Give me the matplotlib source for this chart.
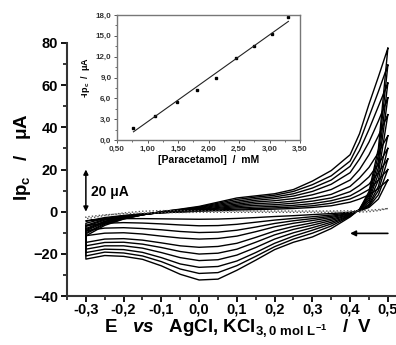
import matplotlib
matplotlib.use('Agg')
import matplotlib.pyplot as plt
import numpy as np
from matplotlib.ticker import MultipleLocator

E = [-0.3, -0.25, -0.2, -0.15, -0.1, -0.05, 0.0, 0.05, 0.1, 0.15, 0.2,
     0.25, 0.3, 0.35, 0.4, 0.425, 0.45, 0.475, 0.5]

# forward (anodic) branches, lowest -> highest paracetamol concentration
up0 = [-4.5, -2.8, -1.8, -1.0, -0.5, -0.2, 0.2, 0.5, 0.8, 1.0, 1.2, 1.5, 2.0, 2.8, 4.5, 6.0, 8.0, 11.0, 15.0]
up1 = [-5.5, -3.2, -2.0, -1.1, -0.5, -0.1, 0.4, 0.8, 1.2, 1.5, 1.8, 2.2, 2.8, 4.0, 6.0, 8.0, 10.5, 15.0, 20.0]
up2 = [-6.5, -3.6, -2.2, -1.2, -0.5, 0.0, 0.6, 1.2, 1.8, 2.2, 2.5, 3.0, 3.8, 5.2, 7.5, 10.0, 13.0, 18.5, 25.0]
up3 = [-7.0, -4.0, -2.4, -1.3, -0.5, 0.2, 0.8, 1.6, 2.4, 3.0, 3.3, 4.0, 5.0, 6.5, 9.5, 12.5, 16.5, 22.5, 30.0]
up4 = [-8.0, -4.5, -2.6, -1.4, -0.4, 0.3, 1.0, 2.0, 3.0, 3.8, 4.2, 5.0, 6.3, 8.2, 12.0, 16.0, 21.0, 28.0, 36.0]
up5 = [-8.5, -4.8, -2.8, -1.4, -0.3, 0.5, 1.3, 2.5, 3.6, 4.6, 5.2, 6.2, 8.0, 10.5, 15.0, 20.0, 27.0, 36.0, 46.0]
up6 = [-9.0, -5.2, -3.0, -1.5, -0.2, 0.7, 1.6, 3.0, 4.3, 5.4, 6.2, 7.4, 9.6, 13.0, 18.5, 25.0, 33.0, 43.0, 54.0]
up7 = [-10.0, -5.6, -3.2, -1.5, -0.1, 0.9, 1.9, 3.5, 5.0, 6.2, 7.0, 8.5, 11.2, 15.0, 21.5, 29.0, 39.0, 50.0, 61.0]
up8 = [-10.5, -6.0, -3.4, -1.5, 0.0, 1.0, 2.2, 4.0, 5.8, 6.9, 7.8, 9.6, 12.8, 17.0, 24.0, 33.0, 45.0, 57.0, 69.5]
up9 = [-11.5, -6.5, -3.5, -1.5, 0.0, 1.2, 2.5, 4.5, 6.5, 7.5, 8.5, 10.5, 14.5, 19.5, 27.0, 37.0, 51.0, 64.0, 77.5]

# reverse (cathodic) branches, same order, values on the same E grid
lo0 = [-4.3, -3.6, -3.3, -3.3, -3.4, -3.5, -3.6, -3.5, -3.2, -2.8, -2.3, -1.9, -1.4, -0.9, -0.3, 0.3, 2.0, 6.0, 15.0]
lo1 = [-6.7, -5.5, -5.2, -5.4, -5.8, -6.3, -6.7, -6.6, -6.0, -5.0, -4.0, -3.2, -2.4, -1.6, -0.5, 0.4, 2.5, 8.0, 20.0]
lo2 = [-9.0, -7.8, -7.6, -8.0, -8.6, -9.4, -9.9, -9.7, -8.8, -7.3, -5.6, -4.3, -3.3, -2.2, -0.8, 0.5, 3.0, 10.0, 25.0]
lo3 = [-11.4, -10.2, -10.0, -10.6, -11.6, -12.5, -13.0, -12.7, -11.6, -9.5, -7.2, -5.5, -4.2, -2.8, -1.0, 0.6, 3.5, 12.0, 30.0]
lo4 = [-14.6, -13.0, -12.8, -13.5, -14.8, -16.2, -16.9, -16.5, -15.0, -12.2, -9.2, -7.0, -5.3, -3.5, -1.3, 0.7, 4.5, 15.0, 36.0]
lo5 = [-16.2, -14.6, -14.5, -15.4, -17.0, -18.9, -20.1, -19.7, -17.8, -14.5, -11.0, -8.4, -6.4, -4.2, -1.5, 0.8, 5.5, 18.0, 46.0]
lo6 = [-17.8, -16.2, -16.2, -17.3, -19.4, -21.8, -23.2, -22.8, -20.6, -17.0, -13.0, -10.0, -7.6, -5.0, -1.8, 0.9, 6.5, 21.0, 54.0]
lo7 = [-19.4, -17.8, -18.0, -19.3, -21.8, -24.8, -26.4, -26.0, -23.4, -19.4, -15.0, -11.6, -8.8, -5.8, -2.0, 1.0, 7.5, 24.0, 61.0]
lo8 = [-21.0, -19.2, -19.6, -21.0, -23.7, -27.2, -29.3, -28.9, -25.6, -21.2, -16.6, -13.0, -10.2, -6.8, -2.2, 1.1, 8.5, 27.0, 69.5]
lo9 = [-22.5, -20.8, -21.2, -22.6, -25.7, -29.7, -32.4, -32.0, -27.8, -23.0, -18.0, -14.5, -12.0, -8.0, -2.5, 1.2, 9.5, 30.0, 77.5]

# blank (no paracetamol), dotted
blank_up = [-3.4, -1.8, -0.6, 0.2, 0.5, 0.5, 0.4, 0.3, 0.3, 0.3, 0.3, 0.3, 0.3, 0.3, 0.4, 0.5, 0.7, 1.0, 1.5]
blank_lo = [-2.5, -1.5, -1.0, -0.7, -0.5, -0.4, -0.3, -0.3, -0.3, -0.3, -0.3, -0.3, -0.3, -0.3, -0.3, -0.2, 0.0, 0.5, 1.5]

# inset: calibration curve
conc = [0.77, 1.13, 1.48, 1.81, 2.13, 2.45, 2.74, 3.04, 3.31]
ipc = [1.8, 3.5, 5.5, 7.2, 9.0, 11.8, 13.5, 15.3, 17.7]

xticks = [-0.3, -0.2, -0.1, 0.0, 0.1, 0.2, 0.3, 0.4, 0.5]
xticklabels = ['-0,3', '-0,2', '-0,1', '0,0', '0,1', '0,2', '0,3', '0,4', '0,5']
yticks = [-40, -20, 0, 20, 40, 60, 80]
in_xticks = [0.5, 1.0, 1.5, 2.0, 2.5, 3.0, 3.5]
in_xticklabels = ['0,50', '1,00', '1,50', '2,00', '2,50', '3,00', '3,50']
in_yticks = [0, 3, 6, 9, 12, 15, 18]
in_yticklabels = ['0,0', '3,0', '6,0', '9,0', '12,0', '15,0', '18,0']

plt.rcParams['font.family'] = ['Liberation Sans', 'DejaVu Sans']
plt.rcParams['font.weight'] = 'bold'
plt.rcParams['axes.labelweight'] = 'bold'
plt.rcParams['mathtext.fontset'] = 'custom'
plt.rcParams['mathtext.rm'] = 'Liberation Sans:bold'
plt.rcParams['mathtext.bf'] = 'Liberation Sans:bold'
plt.rcParams['mathtext.it'] = 'Liberation Sans:italic:bold'

W, H = 396, 345
fig = plt.figure(figsize=(W / 100, H / 100), dpi=100)
ax = fig.add_axes([67 / W, 49 / H, 328.4 / W, 253 / H])

E = np.array(E)
E_cv = np.concatenate([E[::-1], E])
for up, lo in [(up0, lo0), (up1, lo1), (up2, lo2), (up3, lo3), (up4, lo4),
               (up5, lo5), (up6, lo6), (up7, lo7), (up8, lo8), (up9, lo9)]:
    i_cv = np.concatenate([np.array(lo)[::-1], up])
    ax.plot(E_cv, i_cv, color='black', lw=1.0)
ax.plot(E_cv, np.concatenate([np.array(blank_lo)[::-1], blank_up]),
        color='#555555', lw=1.0, ls=(0, (1, 1.5)))

ax.set_xlim(-0.35, 0.52)
ax.set_ylim(-40, 80)
ax.set_xticks(xticks)
ax.set_xticklabels(xticklabels)
ax.set_yticks(yticks)
ax.xaxis.set_minor_locator(MultipleLocator(0.05))
ax.yaxis.set_minor_locator(MultipleLocator(10))
ax.tick_params(which='major', direction='out', length=4.5, width=1.3, labelsize=10.5, pad=2)
ax.tick_params(axis='x', which='major', pad=0.5)
ax.tick_params(which='minor', direction='out', length=2.8, width=1.1)
for s in ['top', 'right']:
    ax.spines[s].set_visible(False)
for s in ['left', 'bottom']:
    ax.spines[s].set_linewidth(1.5)
    ax.spines[s].set_color('#333333')

ax.set_xlabel(r'E   $\mathit{vs}$   AgCl, KCl$_{\mathrm{3,0\ mol\ L^{-1}}}$   /  V',
              fontsize=13.5, fontweight='bold')
ax.xaxis.set_label_coords(0.52, -0.085)
ax.set_ylabel(r'Ip$_{\mathrm{c}}$   /   μA', fontsize=13.5, fontweight='bold')
ax.yaxis.set_label_coords(-0.105, 0.55)

ax.annotate('', xy=(-0.3, 20), xytext=(-0.3, 0),
            arrowprops=dict(arrowstyle='<|-|>', lw=1.1, color='black', mutation_scale=7,
                            shrinkA=0, shrinkB=0))
ax.text(-0.287, 9.5, '20 μA', fontsize=10, fontweight='bold', va='center', ha='left')
ax.annotate('', xy=(0.4, -10.3), xytext=(0.5, -10.3),
            arrowprops=dict(arrowstyle='-|>', lw=1.2, color='black', mutation_scale=8,
                            shrinkA=0, shrinkB=0))

# inset
axi = fig.add_axes([117 / W, 205 / H, 183 / W, 125 / H])
axi.plot(conc, ipc, 's', color='black', ms=2.0)
slope, icept = np.polyfit(conc, ipc, 1)
xf = np.array([min(conc), max(conc)])
axi.plot(xf, slope * xf + icept, color='#222222', lw=0.8)
axi.set_xlim(0.5, 3.5)
axi.set_ylim(0, 18)
axi.set_xticks(in_xticks)
axi.set_xticklabels(in_xticklabels, fontweight='bold')
axi.set_yticks(in_yticks)
axi.set_yticklabels(in_yticklabels, fontweight='bold')
axi.xaxis.set_minor_locator(MultipleLocator(0.25))
axi.yaxis.set_minor_locator(MultipleLocator(1.5))
axi.tick_params(which='major', direction='out', length=2.5, width=0.7, labelsize=5.8,
                pad=1.5, colors='#555555', labelcolor='#333333')
axi.tick_params(which='minor', direction='out', length=1.5, width=0.6, colors='#555555')
for s in axi.spines.values():
    s.set_color('#777777')
    s.set_linewidth(1.0)
axi.set_xlabel('[Paracetamol]  /  mM', fontsize=7.5, fontweight='bold', labelpad=1.5)
axi.set_ylabel(r'-Ip$_{\mathrm{c}}$  /  μA', fontsize=6.5, fontweight='bold', labelpad=3)

fig.savefig('out.png', dpi=100)
